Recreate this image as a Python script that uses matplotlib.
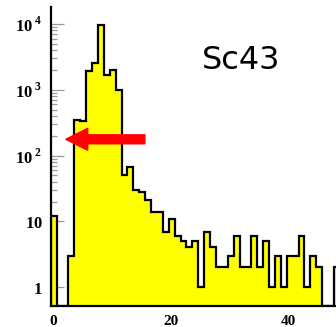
import matplotlib
matplotlib.use("Agg")
import matplotlib.pyplot as plt
import numpy as np

# bin contents (one bin per unit, first bin starts near 0)
counts = [12, 0, 0, 3, 350, 340, 1960, 2540, 9700, 1690,
          2010, 1000, 51, 68, 30, 28, 21, 14, 14, 7,
          11, 6, 5, 4, 5, 1, 7, 4, 2, 2,
          3, 6, 2, 2, 6, 2, 5, 1, 3, 1,
          3, 3, 6, 1, 3, 2, 0, 0, 2]
bin_start = -0.35
bin_width = 1.0

x_ticks = [0, 20, 40]
y_ticks = [1, 10, 100, 1000, 10000]
y_labels = [r'$\mathbf{1}\enspace$', r'$\mathbf{10}\enspace$',
            r'$\mathbf{10}^{\;\mathbf{2}}$', r'$\mathbf{10}^{\;\mathbf{3}}$',
            r'$\mathbf{10}^{\;\mathbf{4}}$']
label = "Sc43"

# arrow pointing at the low-energy region
arrow_tail = (15.6, 177)
arrow_tip = (2.2, 177)

y_lo, y_hi = 0.52, 1.83e4
x_lo, x_hi = -0.3, 48.0

plt.rcParams['mathtext.fontset'] = 'custom'
plt.rcParams['mathtext.rm'] = 'Liberation Serif:bold'
plt.rcParams['mathtext.bf'] = 'Liberation Serif:bold'

fig = plt.figure(figsize=(3.36, 3.27), dpi=100)
ax = fig.add_axes([0.152, 0.065, 0.848, 0.914])

counts = np.array(counts, dtype=float)
edges = bin_start + bin_width * np.arange(len(counts) + 1)
vals = np.where(counts > 0, counts, y_lo)

ax.stairs(vals, edges, baseline=y_lo, fill=True, color='#ffff00', zorder=2)
ax.stairs(vals, edges, baseline=y_lo, color='black', lw=1.6, zorder=3)

ax.set_yscale('log')
ax.set_xlim(x_lo, x_hi)
ax.set_ylim(y_lo, y_hi)

ax.set_yticks(y_ticks)
ax.set_yticklabels(y_labels)
ax.set_xticks(x_ticks)
ax.set_xticks(np.arange(5, 50, 5), minor=True)
ax.set_xticklabels([str(t) for t in x_ticks], fontfamily='Liberation Serif',
                   fontweight='bold', fontsize=11)
for t in ax.get_yticklabels():
    t.set_fontsize(12)

ax.tick_params(axis='y', which='major', direction='in', length=9.5, width=0.9,
               color='#999999', pad=6)
ax.tick_params(axis='y', which='minor', direction='in', length=4.5, width=0.9,
               color='#999999')
ax.tick_params(axis='x', which='both', direction='in', length=4.5, width=0.9,
               color='#999999', pad=7)

for side in ['top', 'right']:
    ax.spines[side].set_visible(False)
for side in ['left', 'bottom']:
    ax.spines[side].set_linewidth(1.6)
    ax.spines[side].set_zorder(4)

ax.text(0.667, 0.822, label, transform=ax.transAxes, fontsize=23,
        family='DejaVu Sans', ha='center', va='center')

ax.annotate('', xy=arrow_tip, xytext=arrow_tail,
            arrowprops=dict(arrowstyle='simple,head_length=1.05,head_width=1.05,tail_width=0.43',
                            color='red', shrinkA=0, shrinkB=0, mutation_scale=15),
            zorder=5)

fig.savefig('out.png', dpi=100, facecolor='white')
